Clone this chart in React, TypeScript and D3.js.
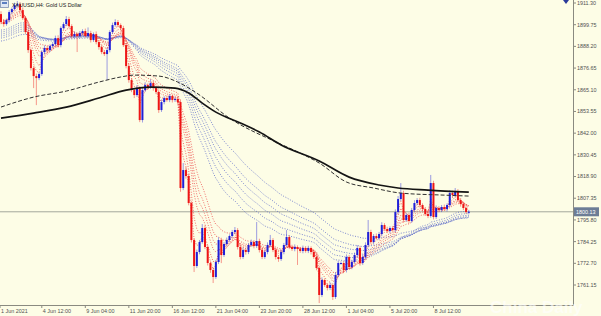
import React from "react";
import * as d3 from "d3";

// ---- data (XAUUSD H4) ----
const firstOpen = 1905.4;
const closes = [
  1901.14, 1900.07, 1902.2, 1906.46, 1908.06, 1910.19, 1910.72, 1907.53, 1903.27, 1895.82,
  1886.23, 1876.65, 1872.4, 1871.33, 1873.46, 1885.17, 1887.3, 1886.23, 1888.36, 1889.43,
  1892.62, 1888.9, 1897.95, 1900.07, 1902.74, 1899.01, 1893.69, 1894.75, 1893.69, 1895.28,
  1896.35, 1893.69, 1895.28, 1891.56, 1894.75, 1890.49, 1887.83, 1885.17, 1884.11, 1886.23,
  1895.82, 1899.54, 1901.14, 1899.54, 1897.95, 1888.9, 1877.72, 1870.27, 1864.94, 1862.28,
  1866.01, 1848.97, 1864.94, 1867.6, 1866.54, 1868.67, 1866.01, 1863.88, 1854.3, 1858.56,
  1860.68, 1859.62, 1861.75, 1859.62, 1860.15, 1858.56, 1812.78, 1822.36, 1819.17, 1804.79,
  1785.1, 1771.26, 1778.71, 1784.03, 1791.49, 1781.37, 1772.86, 1769.13, 1765.4, 1773.39,
  1785.1, 1777.11, 1782.97, 1785.1, 1787.23, 1789.36, 1790.42, 1781.37, 1776.05, 1779.77,
  1778.71, 1782.44, 1784.03, 1781.9, 1784.57, 1779.77, 1776.05, 1778.71, 1782.44, 1785.1,
  1779.77, 1776.05, 1774.98, 1778.71, 1782.44, 1786.69, 1781.37, 1780.31, 1781.37, 1780.31,
  1779.24, 1780.84, 1779.24, 1780.84, 1778.71, 1776.05, 1770.19, 1755.82, 1763.81, 1761.14,
  1759.55, 1761.14, 1754.76, 1766.47, 1772.86, 1772.86, 1769.13, 1776.05, 1770.73, 1773.39,
  1777.11, 1780.84, 1772.86, 1776.05, 1782.44, 1789.36, 1784.03, 1787.23, 1786.16, 1788.29,
  1793.08, 1790.95, 1789.89, 1791.49, 1790.42, 1800.0, 1806.92, 1810.12, 1795.74, 1798.41,
  1795.21, 1801.07, 1804.79, 1806.39, 1803.73, 1801.6, 1798.94, 1797.87, 1815.44, 1797.34,
  1802.13, 1801.07, 1802.66, 1801.6, 1803.73, 1810.12, 1809.05, 1811.18, 1806.39, 1804.26,
  1802.13, 1800.0, 1800.13,
];
const upperWick = [
  1.5, 1.2, 0.8, 1.0, 0.9, 1.3, 1.6, 1.1, 1.4, 1.0,
  1.2, 0.9, 1.1, 1.3, 0.8, 1.0, 1.4, 1.2, 0.9, 1.1,
  1.3, 1.5, 0.9, 1.0, 1.6, 1.2, 1.0, 1.4, 0.8, 1.1,
  1.0, 1.3, 3.0, 1.2, 0.9, 1.4, 1.0, 1.1, 0.8, 1.2,
  1.0, 1.3, 1.5, 1.1, 0.9, 1.2, 1.0, 1.4, 1.1, 0.8,
  1.6, 1.0, 1.3, 1.5, 0.9, 2.0, 1.1, 1.2, 0.9, 1.4,
  1.0, 1.3, 1.1, 0.9, 1.2, 1.0, 1.5, 3.7, 1.6, 1.2,
  1.0, 0.9, 1.3, 1.1, 2.1, 1.4, 1.0, 0.9, 1.2, 1.1,
  1.5, 1.2, 1.0, 1.3, 0.9, 1.1, 1.6, 1.0, 1.2, 1.4,
  0.9, 1.1, 1.3, 1.0, 10.1, 1.2, 0.9, 1.1, 1.4, 2.7,
  1.0, 1.2, 0.9, 1.3, 1.1, 3.7, 1.0, 1.2, 1.4, 0.9,
  1.1, 1.3, 1.0, 1.2, 0.9, 1.1, 1.0, 1.2, 1.4, 0.9,
  1.1, 1.3, 1.0, 1.5, 1.2, 0.9, 1.1, 1.4, 1.0, 1.2,
  1.3, 1.5, 1.0, 1.1, 1.4, 6.4, 1.2, 1.0, 1.3, 1.1,
  1.5, 1.0, 1.2, 0.9, 1.1, 1.4, 1.6, 5.3, 1.2, 1.0,
  1.3, 1.1, 1.5, 1.0, 1.2, 0.9, 1.1, 1.0, 4.3, 1.2,
  1.4, 1.0, 1.1, 1.3, 0.9, 1.5, 1.2, 1.6, 1.0, 1.1,
  1.2, 0.9, 1.0,
];
const lowerWick = [
  1.1, 1.4, 0.9, 1.2, 1.0, 0.8, 1.3, 1.1, 1.0, 1.2,
  1.5, 1.3, 6.4, 14.4, 1.1, 1.0, 1.2, 1.4, 0.9, 1.1,
  1.0, 1.3, 1.2, 0.9, 1.1, 1.0, 1.4, 1.2, 8.5, 1.0,
  1.2, 0.9, 1.1, 1.3, 1.0, 1.2, 1.4, 1.1, 1.0, 13.8,
  1.2, 1.0, 0.9, 1.1, 1.3, 1.0, 1.2, 1.4, 1.1, 1.6,
  1.0, 1.1, 1.3, 0.9, 1.2, 1.0, 1.4, 1.1, 1.5, 1.0,
  1.2, 0.9, 1.1, 1.3, 1.0, 1.2, 2.0, 1.1, 1.4, 1.2,
  1.3, 3.2, 1.0, 1.2, 0.9, 1.1, 1.3, 1.5, 3.2, 1.0,
  1.1, 4.3, 1.0, 1.2, 0.9, 1.1, 1.0, 1.3, 1.2, 1.0,
  1.4, 1.1, 0.9, 1.2, 1.0, 1.3, 1.1, 1.0, 1.2, 0.9,
  1.1, 1.3, 1.5, 1.0, 1.2, 0.9, 1.1, 1.0, 1.2, 8.5,
  1.0, 1.2, 0.9, 1.1, 1.3, 1.0, 1.2, 4.3, 1.1, 1.0,
  1.3, 1.1, 1.6, 1.0, 1.2, 0.9, 1.1, 1.3, 1.0, 1.2,
  0.9, 1.1, 1.4, 1.0, 1.2, 1.1, 1.0, 1.3, 0.9, 1.1,
  1.2, 1.0, 1.1, 1.3, 0.9, 1.2, 1.0, 1.1, 1.4, 1.0,
  1.2, 0.9, 1.1, 1.0, 1.3, 1.2, 1.0, 1.1, 0.9, 1.3,
  1.0, 1.2, 1.1, 0.9, 1.3, 1.0, 1.2, 1.1, 1.0, 1.4,
  1.1, 1.0, 1.2,
];

// Guppy-style EMA ribbons (periods) and their values at the first visible bar
const shortPeriods = [3, 5, 8, 10, 12, 15];
const shortSeeds = [1902.2, 1903.27, 1902.74, 1902.2, 1901.67, 1900.61];
const longPeriods = [30, 35, 40, 45, 50, 60];
const longSeeds = [1896.88, 1895.82, 1894.75, 1893.69, 1892.62, 1891.03];

// long moving averages: bar index / price
const slowMaBars = [0, 12, 24, 36, 46, 55, 64, 69, 74, 79, 88, 95, 103, 117, 128, 139, 146, 157, 172];
const slowMaPrices = [1850.0, 1852.7, 1855.9, 1860.7, 1864.9, 1866.5, 1866.0, 1863.4, 1858.0, 1853.2, 1847.4, 1842.6, 1835.7, 1827.2, 1818.6, 1814.4, 1812.8, 1811.7, 1810.6];
const midMaBars = [0, 12, 24, 36, 44, 49, 58, 65, 72, 84, 102, 110, 117, 127, 137, 147, 163, 172];
const midMaPrices = [1855.9, 1861.2, 1864.4, 1869.2, 1871.9, 1872.9, 1872.4, 1869.2, 1863.3, 1850.0, 1836.7, 1831.4, 1826.1, 1816.0, 1812.8, 1810.1, 1809.0, 1808.5];

const priceTicks = [1911.3, 1899.75, 1888.2, 1876.65, 1865.1, 1853.55, 1842.0, 1830.45, 1818.9, 1807.35, 1795.8, 1784.25, 1772.7, 1761.15];
const timeLabelBars = [-1, 15, 31, 47, 63, 79, 95, 111, 127, 143, 159];
const timeLabels = ["1 Jun 2021", "4 Jun 12:00", "9 Jun 04:00", "11 Jun 20:00", "16 Jun 12:00", "21 Jun 04:00", "23 Jun 20:00", "28 Jun 12:00", "1 Jul 04:00", "5 Jul 20:00", "8 Jul 12:00"];
const lastPrice = 1800.13;
const title = "XAUUSD,H4:  Gold US Dollar";

function ema(values: number[], period: number, seed: number) {
  const a = 2 / (period + 1);
  const out: number[] = [];
  let v = seed;
  values.forEach((c, i) => {
    if (i > 0) v = v + a * (c - v);
    out.push(v);
  });
  return out;
}

export default function App() {
  const W = 601, H = 316;
  const plotR = 573, plotB = 305;
  const x = d3.scaleLinear().domain([0, 172]).range([1.0, 468.8]);
  const y = d3.scaleLinear().domain([1761.15, 1911.3]).range([285, 3]);
  const font = "'Liberation Sans', Arial, sans-serif";
  const bg = "#fdfde6";
  const bull = "#1f1fd8";
  const bear = "#ee1515";

  const line = d3.line<number>().x((_, i) => x(i)).y((d) => y(d));
  const maLine = d3
    .line<[number, number]>()
    .x((d) => x(d[0]))
    .y((d) => y(d[1]))
    .curve(d3.curveMonotoneX);

  const opens = closes.map((_, i) => (i === 0 ? firstOpen : closes[i - 1]));
  const shortEmas = shortPeriods.map((p, k) => ema(closes, p, shortSeeds[k]));
  const longEmas = longPeriods.map((p, k) => ema(closes, p, longSeeds[k]));

  const slowPts = slowMaBars.map((b, i) => [b, slowMaPrices[i]] as [number, number]);
  const midPts = midMaBars.map((b, i) => [b, midMaPrices[i]] as [number, number]);

  const yLast = y(lastPrice);

  return (
    <svg
      width={W}
      height={H}
      style={{ position: "absolute", left: 0, top: 0, display: "block" }}
      fontFamily={font}
    >
      <defs>
        <clipPath id="plot">
          <rect x={0} y={0} width={plotR} height={plotB} />
        </clipPath>
      </defs>
      <rect x={0} y={0} width={W} height={H} fill={bg} />

      <g clipPath="url(#plot)">
        {/* current price line */}
        <line x1={0} x2={plotR} y1={yLast} y2={yLast} stroke="#a4a89c" strokeWidth={1} />

        {/* ribbons */}
        {longEmas.map((s, k) => (
          <path key={"l" + k} d={line(s) || ""} fill="none" stroke="#5a68c8" strokeWidth={1} strokeDasharray="1 1.6" opacity={0.8} />
        ))}
        {shortEmas.map((s, k) => (
          <path key={"s" + k} d={line(s) || ""} fill="none" stroke="#ec4a4a" strokeWidth={1} strokeDasharray="1 1.6" opacity={0.8} />
        ))}

        {/* candles */}
        {closes.map((c, i) => {
          const o = opens[i];
          const up = c >= o;
          const col = up ? bull : bear;
          const top = Math.max(o, c);
          const bot = Math.min(o, c);
          const hi = top + upperWick[i];
          const lo = bot - lowerWick[i];
          const cx = x(i);
          const yTop = y(top);
          const h = Math.max(1, y(bot) - yTop);
          return (
            <g key={i}>
              <line x1={cx} x2={cx} y1={y(hi)} y2={y(lo)} stroke={col} strokeWidth={0.8} opacity={0.55} />
              <rect x={cx - 1} y={yTop} width={2} height={h} fill={col} />
            </g>
          );
        })}

        {/* long moving averages */}
        <path d={maLine(midPts) || ""} fill="none" stroke="#303030" strokeWidth={1} strokeDasharray="4 2" />
        <path d={maLine(slowPts) || ""} fill="none" stroke="#141414" strokeWidth={1.7} />
      </g>

      {/* axes */}
      <line x1={plotR + 0.5} x2={plotR + 0.5} y1={0} y2={plotB} stroke="#8a8a80" strokeWidth={1} />
      <line x1={0} x2={plotR + 0.5} y1={plotB + 0.5} y2={plotB + 0.5} stroke="#8a8a80" strokeWidth={1} />

      {priceTicks.map((p) => (
        <g key={p}>
          <line x1={plotR} x2={plotR + 3} y1={y(p)} y2={y(p)} stroke="#8a8a80" />
          <text x={plotR + 4} y={y(p)} dy="0.35em" fontSize={5.4} fill="#505050">
            {p.toFixed(2)}
          </text>
        </g>
      ))}

      {/* last price box */}
      <rect x={plotR + 1} y={yLast - 4.5} width={25} height={9} fill="#6d7d96" />
      <text x={plotR + 3} y={yLast} dy="0.35em" fontSize={5.4} fill="#ffffff">
        {lastPrice.toFixed(2)}
      </text>

      {timeLabelBars.map((b, k) => {
        const tx = Math.max(0, x(b));
        return (
          <g key={b}>
            <line x1={tx} x2={tx} y1={plotB} y2={plotB + 3} stroke="#8a8a80" />
            <text x={tx + 1} y={313} fontSize={5.4} fill="#505050">
              {timeLabels[k]}
            </text>
          </g>
        );
      })}

      {/* title */}
      <rect x={0.5} y={0.5} width={8} height={7} fill="#dfe8f4" stroke="#7d8fb0" strokeWidth={0.8} />
      <rect x={2} y={2} width={5} height={2} fill="#5b7fc0" />
      <text x={12} y={6.5} fontSize={5.4} fill="#202020">
        {title}
      </text>

      {/* chart-shift marker */}
      <path d="M563,0 L569,0 L566,4 Z" fill="#2a3a9a" />

      {/* watermark */}
      <text x={490} y={313} fontSize={17} fontWeight="bold" fill="#ffffff" opacity={0.6}>
        China Daily
      </text>
    </svg>
  );
}
